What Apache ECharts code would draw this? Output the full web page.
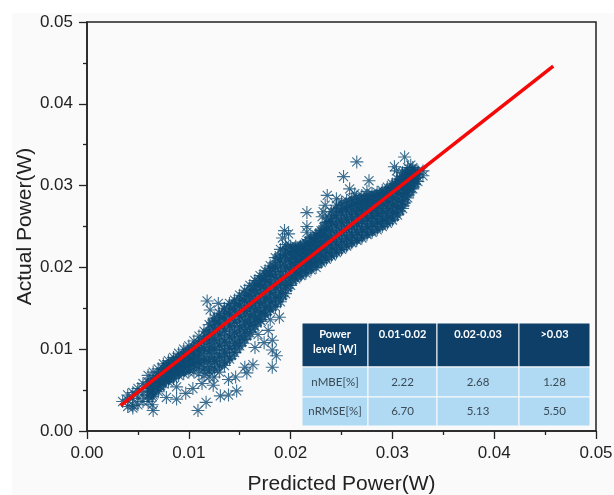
<!DOCTYPE html>
<html><head><meta charset="utf-8">
<style>html,body{margin:0;padding:0;background:#fff}#c{width:614px;height:495px}</style>
<script src="https://cdn.jsdelivr.net/npm/echarts@6/dist/echarts.min.js"></script>
</head><body><div id="c"></div>
<script>
const bandPredicted = [.0035,.004,.0045,.005,.0055,.006,.0065,.007,.0075,.008,.0085,.009,.0095,.01,.0105,.011,.0115,.012,.0125,.013,.0135,.014,.0145,.015,.0155,.016,.0165,.017,.0175,.018,.0185,.019,.0195,.02,.0205,.021,.0215,.022,.0225,.023,.0235,.024,.0245,.025,.0255,.026,.0265,.027,.0275,.028,.0285,.029,.0295,.03,.0305,.031,.0315,.032,.0325,.033];
const bandActual = [
[.0036],[.003,.0038,.0044],[.0031,.004,.0047],[.0032,.004,.0048,.0052],[.0036,.0044,.0052,.0058],
[.0036,.0044,.0052,.006,.0068],[.0044,.005,.0056,.0064,.0072],[.0048,.0056,.0062,.0068,.0076],
[.0058,.0064,.007,.0076,.0082],[.006,.0066,.0073,.008,.0086],[.0064,.0071,.0078,.0084,.009],[.0068,.0075,.0082,.0089,.0095],
[.007,.0078,.0086,.0093,.01],[.0072,.0081,.009,.0097,.0104],[.0072,.0083,.0094,.0102,.011],[.007,.0084,.0098,.0107,.0116],
[.0068,.0086,.0102,.0112,.0122],[.0066,.0082,.0095,.0106,.0118,.013],[.0066,.0085,.0099,.0111,.0124,.0138],[.0072,.009,.0104,.0117,.013,.0144],
[.008,.0095,.0109,.0122,.0136,.015],[.0088,.0101,.0115,.0128,.0142,.0156],[.0096,.0107,.012,.0133,.0147,.016],[.0104,.0115,.0127,.014,.0153,.0166],
[.0112,.0122,.0134,.0146,.0159,.0172],[.012,.013,.0141,.0153,.0165,.0178],[.0128,.0137,.0148,.016,.0172,.0184],[.0136,.0145,.0156,.0167,.0179,.019],
[.0142,.0151,.0162,.0174,.0185,.0196],[.0148,.0158,.0169,.0181,.0192,.0202],[.0152,.0163,.0175,.0188,.02,.0212],[.0158,.0169,.0182,.0195,.0209,.0222],
[.0168,.0178,.0189,.0201,.0215,.0228],[.0178,.0187,.0197,.0207,.0217,.0226],[.0186,.0194,.0202,.021,.0218,.0226],[.019,.0198,.0206,.0213,.022,.0226],
[.0193,.0201,.0209,.0216,.0223,.023],[.0197,.0205,.0213,.022,.0228,.0236],[.02,.0208,.0216,.0224,.0232,.024],[.0206,.0214,.0222,.023,.0238,.0245],
[.021,.0219,.0228,.0237,.0246,.0255],[.0214,.0224,.0234,.0245,.0256,.0268],[.0218,.0228,.0239,.0251,.0263,.0276],[.0222,.0232,.0243,.0255,.0268,.028],
[.0226,.0236,.0247,.0259,.0271,.0282],[.023,.024,.0251,.0262,.0273,.0284],[.0233,.0243,.0254,.0265,.0276,.0286],[.0236,.0246,.0257,.0268,.0278,.0288],
[.024,.025,.026,.027,.0279,.0288],[.0243,.0253,.0263,.0272,.0281,.029],[.0246,.0256,.0266,.0275,.0284,.0292],[.025,.0259,.0269,.0278,.0286,.0294],
[.0254,.0263,.0272,.0281,.029,.0298],[.0258,.0267,.0276,.0285,.0294,.0302],[.0264,.0273,.0282,.0291,.03,.0308],[.0272,.028,.0289,.0297,.0306,.0316],
[.0285,.0292,.0299,.0306,.0314,.0322],[.0296,.0302,.0308,.0314,.0322],[.0305,.031,.0314,.0318],[.0312,.0318]
];
const corePredicted = [.00625,.00675,.00725,.00775,.00825,.00875,.00925,.00975,.01025,.01075,.01125,.01175,.01225,.01275,.01325,.01375,.01425,.01475,.01525,.01575,.01625,.01675,.01725,.01775,.01825,.01875,.01925,.01975,.02025,.02075,.02125,.02175,.02225,.02275,.02325,.02375,.02425,.02475,.02525,.02575,.02625,.02675,.02725,.02775,.02825,.02875,.02925,.02975,.03025,.03075,.03125,.03175,.03225];
const coreActual = [
[.0044,.0052,.006],[.005,.0057,.0064],[.0054,.006,.0066,.0072],[.0061,.0067,.0073,.0079],[.0065,.0071,.0077,.0083],[.0069,.0075,.0081,.0087],
[.0072,.0079,.0085,.0091],[.0075,.0082,.0089,.0096],[.0078,.0085,.0092,.01],[.008,.0088,.0096,.0105],[.0078,.0088,.0098,.011],[.0075,.0088,.01,.0112,.012],
[.0075,.0087,.0099,.0111,.0123,.0132],[.0078,.009,.0103,.0116,.0129,.0138],[.0082,.0095,.0108,.0122,.0135,.0143],[.0087,.01,.0113,.0127,.014,.0149],
[.0092,.0105,.0118,.0132,.0145,.0154],[.01,.0112,.0125,.0138,.015,.0159],[.0108,.012,.0132,.0144,.0156,.0165],[.0116,.0128,.0139,.015,.0162,.017],
[.0125,.0136,.0147,.0158,.0169,.0177],[.0133,.0143,.0154,.0165,.0176,.0183],[.014,.015,.0161,.0172,.0182,.0189],[.0146,.0157,.0168,.0179,.0189,.0195],
[.0152,.0163,.0174,.0185,.0195,.0202],[.0158,.0168,.0179,.0191,.0203,.0212],[.0165,.0176,.0187,.0199,.021,.022],[.0175,.0185,.0195,.0205,.0215,.0224],
[.0184,.0192,.02,.0208,.0216,.0224],[.0189,.0197,.0205,.0212,.0219,.0225],[.0193,.0201,.0208,.0215,.0222,.0228],[.0197,.0205,.0212,.0219,.0226,.0233],
[.0201,.0208,.0216,.0224,.0231,.0237],[.0205,.0213,.0221,.0229,.0236,.0242],[.0209,.0218,.0227,.0236,.0244,.025],[.0213,.0223,.0233,.0243,.0253,.026],
[.0217,.0227,.0237,.0248,.0258,.0268],[.0221,.0231,.0242,.0253,.0264,.0273],[.0225,.0235,.0246,.0257,.0268,.0276],[.0229,.0239,.025,.0261,.0271,.0279],
[.0233,.0243,.0254,.0265,.0274,.0281],[.0236,.0246,.0257,.0267,.0276,.0283],[.024,.025,.026,.027,.0278,.0284],[.0243,.0253,.0263,.0272,.028,.0286],
[.0246,.0256,.0266,.0275,.0283,.0288],[.025,.0259,.0269,.0278,.0285,.029],[.0253,.0262,.0272,.0281,.0288,.0293],[.0257,.0266,.0275,.0284,.0292,.0297],
[.0262,.0271,.028,.0289,.0297,.0302],[.0269,.0277,.0286,.0295,.0303,.0308],[.0279,.0287,.0295,.0303,.031,.0316],[.0292,.0299,.0306,.0313,.0318],[.0302,.0308,.0314,.0318]
];
const strayPredicted = [.0045,.0065,.0064,.0109,.0131,.0117,.0139,.0147,.0088,.0078,.0064,.0104,.0088,.0124,.0139,.0157,.0163,.0182,.0182,.0165,.0182,.0189,.018,.0171,.0121,.0129,.0118,.0236,.0265,.0234,.0252,.0258,.0277,.0216,.0216,.0216,.0312,.0302,.0194,.0205,.0232,.0192,.0198,.0231,.0245,.0263,.0275,.0304,.0318,.0178,.0174,.0186,.0168,.0155,.0146,.0097,.0113];
const strayActual = [.0028,.0025,.0032,.0025,.0043,.0035,.0044,.0049,.0039,.0041,.0042,.0052,.0054,.0056,.0063,.0071,.0081,.0078,.0099,.0102,.0111,.0139,.0136,.0134,.0148,.0156,.0159,.0288,.0329,.0276,.0311,.0296,.0306,.0267,.025,.0243,.0335,.0323,.0245,.0195,.0268,.0236,.0241,.0262,.0284,.029,.0293,.0318,.0325,.0123,.0108,.0092,.0118,.0078,.0066,.0046,.0058];
const linePredicted = [.0033,.0458];
const lineActual = [.0031,.0446];
const tableRows = [
  ['Power\nlevel [W]','0.01-0.02','0.02-0.03','>0.03'],
  ['nMBE[%]','2.22','2.68','1.28'],
  ['nRMSE[%]','6.70','5.13','5.50']
];
const xTitle = 'Predicted Power(W)', yTitle = 'Actual Power(W)';

const points = [];
bandPredicted.forEach((x,i)=>bandActual[i].forEach(y=>points.push([x,y])));
strayPredicted.forEach((x,i)=>points.push([x,strayActual[i]]));
const corePoints = [];
corePredicted.forEach((x,i)=>coreActual[i].forEach(y=>corePoints.push([x,y])));

const star = 'path://M0 -10L0 10M-10 0L10 0M-7 -7L7 7M-7 7L7 -7';
const font = 'Liberation Sans, Arial, sans-serif';
const axisBase = {
  type:'value',min:0,max:0.05,interval:0.01,
  nameLocation:'middle',nameMoveOverlap:false,
  nameTextStyle:{fontFamily:font,fontSize:21,color:'#222'},
  axisLine:{show:true,onZero:false,lineStyle:{color:'#222',width:1.5}},
  axisTick:{show:true,length:8,lineStyle:{color:'#222',width:1.3}},
  minorTick:{show:true,splitNumber:2,length:4,lineStyle:{color:'#222',width:1.3}},
  splitLine:{show:false},minorSplitLine:{show:false},
  axisLabel:{fontFamily:font,fontSize:17,color:'#222',formatter:v=>v.toFixed(2)}
};

const colX=[302,368,437,519,590], rowY=[323,367,397,426];
const table=[];
tableRows.forEach((row,r)=>row.forEach((txt,c)=>{
  const h=r===0;
  table.push({type:'rect',z:50,shape:{x:colX[c],y:rowY[r],width:colX[c+1]-colX[c],height:rowY[r+1]-rowY[r]},
    style:{fill:h?'#0e3f69':'#b0daf3',stroke:'#fafafa',lineWidth:1}});
  table.push({type:'text',z:51,
    x:(colX[c]+colX[c+1])/2,y:h?rowY[r]+(c===0?18.5:11):(rowY[r]+rowY[r+1])/2,
    style:{text:txt,fill:h?'#fff':'#3a4a55',font:(h?'bold 11px':'11.5px')+' Lato, sans-serif',
      align:'center',verticalAlign:'middle',lineHeight:15}});
}));

const chart=echarts.init(document.getElementById('c'),null,{renderer:'canvas'});
chart.setOption({
  animation:false,
  backgroundColor:'#fff',
  graphic:[{type:'rect',z:-1,silent:true,shape:{x:12,y:13,width:602,height:482},style:{fill:'#fafafa'}},...table],
  grid:{left:87,right:18,top:22,bottom:64,containLabel:false,outerBoundsMode:'none',show:true,borderColor:'#222',borderWidth:1.5,backgroundColor:'transparent'},
  xAxis:{...axisBase,name:xTitle,nameGap:43,axisLabel:{...axisBase.axisLabel,margin:14}},
  yAxis:{...axisBase,name:yTitle,nameGap:51,axisLabel:{...axisBase.axisLabel,margin:14}},
  series:[
    {type:'scatter',data:points,symbol:star,symbolSize:13,silent:true,
      itemStyle:{color:'rgba(0,0,0,0)',borderColor:'#0f4c75',borderWidth:1.1}},
    {type:'scatter',data:corePoints,symbol:star,symbolSize:11,silent:true,
      itemStyle:{color:'rgba(0,0,0,0)',borderColor:'#0d4a73',borderWidth:2.6}},
    {type:'line',data:linePredicted.map((x,i)=>[x,lineActual[i]]),symbol:'none',silent:true,z:10,
      lineStyle:{color:'#f50808',width:3.5}}
  ]
});
</script></body></html>
